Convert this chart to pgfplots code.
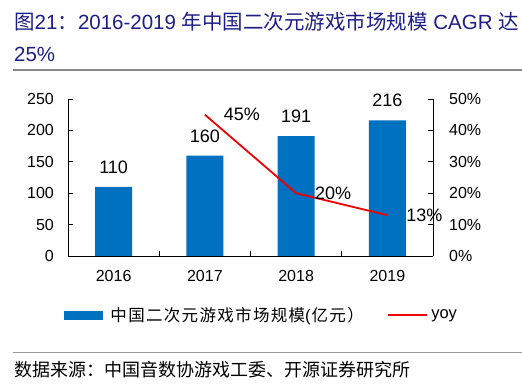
\documentclass[border=0pt]{standalone}
\usepackage{pgfplots}
\pgfplotsset{compat=1.18}
\usepackage{fontspec}
\setmainfont{Liberation Sans}
\newfontfamily\cjk{Noto Sans CJK SC}
\newfontfamily\cjkls[LetterSpace=8]{Noto Sans CJK SC}
\definecolor{barblue}{RGB}{0,112,192}
\definecolor{titleblue}{RGB}{30,30,135}
\definecolor{linered}{RGB}{240,0,0}
\begin{document}
\begin{tikzpicture}[x=1pt,y=1pt]
\path[use as bounding box] (0,0) rectangle (522,383);
% title
\node[anchor=base west,inner sep=0,text=titleblue,font=\fontsize{20.5}{24}\selectfont] at (14,353)
 {{\cjk 图}21{\cjk ：}2016-2019 {\cjk 年中国二次元游戏市场规模} CAGR {\cjk 达}};
\node[anchor=base west,inner sep=0,text=titleblue,font=\fontsize{20.5}{24}\selectfont] at (14,321) {25\%};
\draw[line width=2.5pt,gray!95] (13,313) -- (522,313);
\draw[line width=1pt,gray!80] (13,31) -- (522,31);
\node[anchor=base west,inner sep=0,font=\cjk\fontsize{18}{20}\selectfont] at (14,7)
 {数据来源：中国音数协游戏工委、开源证券研究所};

\begin{axis}[
  at={(68pt,127pt)}, anchor=south west,
  scale only axis, width=365pt, height=157pt,
  xmin=-0.5, xmax=3.5, ymin=0, ymax=250,
  axis x line=bottom, axis y line=left,
  axis line style={-, line width=0.8pt},
  xtick={0,1,2,3}, xticklabels={2016,2017,2018,2019},
  minor xtick={0.5,1.5,2.5},
  major x tick style={draw=none},
  minor x tick style={line width=0.8pt, black},
  minor tick length=5pt,
  ytick={0,50,100,150,200,250},
  major tick length=5pt,
  tick align=inside,
  y tick style={line width=0.8pt, black},
  ticklabel style={font=\fontsize{16}{19}\selectfont},
  xticklabel style={inner sep=0pt, anchor=north, yshift=-14pt},
  yticklabel style={inner sep=0pt, anchor=east, xshift=-14pt},
  /pgf/number format/assume math mode=true,
  clip=false,
]
\addplot[ybar, bar width=37pt, fill=barblue, draw=none,
  nodes near coords,
  every node near coord/.append style={anchor=south, inner sep=0pt, yshift=13pt, font=\fontsize{18}{21}\selectfont, black}]
  coordinates {(0,110) (1,160) (2,191) (3,216)};
\end{axis}

\begin{axis}[
  at={(68pt,127pt)}, anchor=south west,
  scale only axis, width=365pt, height=157pt,
  xmin=-0.5, xmax=3.5, ymin=0, ymax=50,
  axis x line=none, axis y line=right,
  axis line style={-, line width=0.8pt},
  ytick={0,10,20,30,40,50},
  yticklabel={\pgfmathprintnumber{\tick}\%},
  major tick length=5pt,
  tick align=inside,
  y tick style={line width=0.8pt, black},
  ticklabel style={font=\fontsize{16}{19}\selectfont},
  yticklabel style={inner sep=0pt, anchor=west, xshift=16pt},
  /pgf/number format/assume math mode=true,
  clip=false,
  legend style={at={(0.5,-0.376)}, anchor=center, xshift=11pt, draw=none, fill=none,
    legend columns=2, font=\fontsize{16.5}{19}\selectfont,
    /tikz/every odd column/.append style={column sep=6pt},
    /tikz/every even column/.append style={column sep=21pt}},
  legend cell align=left,
]
\addlegendimage{legend image code/.code={\fill[barblue] (0pt,-4pt) rectangle (38pt,4pt);}}
\addlegendentry{{\cjkls 中国二次元游戏市场规模}(\hspace{1pt}{\cjkls 亿元）}}
\addplot[linered, line width=1.8pt,
  nodes near coords={\pgfmathprintnumber{\pgfplotspointmeta}\%},
  every node near coord/.append style={anchor=west, inner sep=0pt, xshift=18pt, font=\fontsize{18}{21}\selectfont, black},
  legend image code/.code={\draw[linered, line width=1.5pt] (0pt,0pt) -- (39pt,0pt);}]
  coordinates {(1,45) (2,20) (3,13)};
\addlegendentry{\hspace{-4pt}yoy}
\end{axis}
\end{tikzpicture}
\end{document}
